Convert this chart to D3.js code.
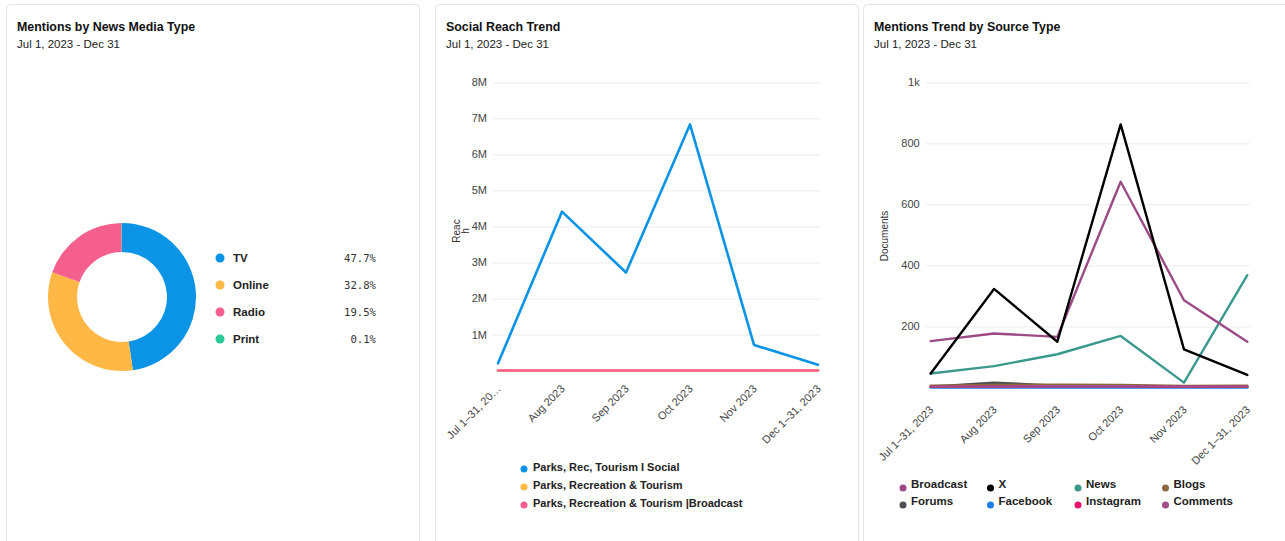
<!DOCTYPE html>
<html>
<head>
<meta charset="utf-8">
<script src="https://cdn.jsdelivr.net/npm/d3@7"></script>
<style>
  body { margin: 0; background: #fff; }
  svg { font-family: "Liberation Sans", Arial, sans-serif; display: block; }
  .title { font-size: 12.4px; font-weight: bold; fill: #111; }
  .sub { font-size: 11.5px; fill: #222; }
  .tick text { font-size: 11px; fill: #444; }
  .tick line { stroke: #ececec; }
  .domain { display: none; }
  .leg { font-size: 11.5px; font-weight: bold; fill: #222; }
</style>
</head>
<body>
<svg id="chart" width="1285" height="541"></svg>
<script>
// donut
const mediaTypes = ["TV", "Online", "Radio", "Print"];
const mediaShare = [47.7, 32.8, 19.5, 0.1];
const mediaColors = ["#0b93e5", "#ffb845", "#f45f8d", "#26c997"];

// social reach
const months = ["Jul 1–31, 2023", "Aug 2023", "Sep 2023", "Oct 2023", "Nov 2023", "Dec 1–31, 2023"];
const reachSeries = ["Parks, Rec, Tourism I Social", "Parks, Recreation & Tourism", "Parks, Recreation & Tourism |Broadcast"];
const reachColors = ["#0b93e5", "#ffb845", "#f45f8d"];
const reachSocial = [0.2e6, 4.41e6, 2.72e6, 6.83e6, 0.71e6, 0.16e6];
const reachOnline = [0, 0, 0, 0, 0, 0];
const reachBroadcast = [0, 0, 0, 0, 0, 0];
const reachTicks = [1e6, 2e6, 3e6, 4e6, 5e6, 6e6, 7e6, 8e6];

// mentions by source
const sources = ["Broadcast", "X", "News", "Blogs", "Forums", "Facebook", "Instagram", "Comments"];
const sourceColors = ["#9c4a85", "#000000", "#3a998c", "#8b6844", "#4f4f4f", "#1a7fe8", "#e8156e", "#a24c88"];
const srcBroadcast = [152, 177, 166, 674, 286, 150];
const srcX = [46, 323, 150, 862, 125, 41];
const srcNews = [46, 70, 109, 169, 16, 368];
const srcBlogs = [6, 8, 9, 8, 5, 6];
const srcForums = [3, 16, 6, 5, 3, 2];
const srcFacebook = [0, 0, 0, 0, 0, 0];
const srcInstagram = [2, 3, 4, 4, 2, 3];
const srcComments = [3, 3, 4, 4, 3, 3];
const docTicks = [200, 400, 600, 800, 1000];

const svg = d3.select("#chart");

function panel(x, w, title) {
  const g = svg.append("g").attr("transform", `translate(${x},4)`);
  g.append("rect").attr("x", 0.5).attr("y", 0.5).attr("width", w).attr("height", 545)
    .attr("rx", 4).attr("fill", "#fff").attr("stroke", "#e4e4e4");
  g.append("text").attr("class", "title").attr("x", 11).attr("y", 27).text(title);
  g.append("text").attr("class", "sub").attr("x", 11).attr("y", 44).text("Jul 1, 2023 - Dec 31");
  return g;
}

// ---- panel 1: donut
const p1 = panel(6, 413, "Mentions by News Media Type");
const pie = d3.pie().sort(null).value(d => d);
const arc = d3.arc().innerRadius(45).outerRadius(74);
const donut = p1.append("g").attr("transform", "translate(116,293)");
donut.selectAll("path").data(pie(mediaShare)).enter().append("path")
  .attr("d", arc).attr("fill", (d, i) => mediaColors[i]);

const leg1 = p1.selectAll(".legrow").data(mediaTypes).enter().append("g")
  .attr("transform", (d, i) => `translate(214,${254 + i * 27})`);
leg1.append("circle").attr("r", 4.5).attr("fill", (d, i) => mediaColors[i]);
leg1.append("text").attr("class", "leg").attr("x", 13).attr("y", 4).text(d => d);
leg1.append("text").attr("x", 156).attr("y", 4).attr("text-anchor", "end")
  .style("font-family", "'DejaVu Sans Mono', monospace").style("font-size", "10.6px").attr("fill", "#333")
  .text((d, i) => mediaShare[i].toFixed(1) + "%");

// ---- shared line chart
function lineChart(g, o) {
  const x = d3.scalePoint().domain(months).range([o.x0, o.x1]);
  const y = d3.scaleLinear().domain([0, o.max]).range([o.y0, o.y1]);

  g.append("g").attr("class", "y axis").attr("transform", `translate(${o.x0 - 5},0)`)
    .call(d3.axisLeft(y).tickValues(o.ticks).tickFormat(o.fmt).tickSize(-(o.x1 - o.x0 + 8)).tickPadding(6))
    .call(a => a.selectAll(".tick line").attr("x1", 0));

  const xa = g.append("g").attr("transform", `translate(3,${o.y0 + o.labelGap})`)
    .call(d3.axisBottom(x).tickSize(0).tickPadding(0).tickFormat(o.xfmt));
  xa.selectAll(".tick text").attr("text-anchor", "end").attr("dy", 0).attr("y", 0)
    .attr("transform", "rotate(-45)");

  const line = d3.line().x((d, i) => x(months[i])).y(d => y(d));
  o.series.forEach((s, i) => {
    g.append("path").datum(s).attr("d", line).attr("fill", "none")
      .attr("stroke", o.colors[i]).attr("stroke-width", o.sw).attr("stroke-linejoin", "round")
      .attr("stroke-linecap", "round");
  });
  return { x, y };
}

// ---- panel 2
const p2 = panel(435, 423, "Social Reach Trend");
lineChart(p2, {
  x0: 63, x1: 383, y0: 366.5, y1: 78.3, max: 8e6, ticks: reachTicks,
  fmt: d => d3.format("~s")(d), xfmt: (d, i) => i === 0 ? "Jul 1–31, 20…" : d,
  labelGap: 19, sw: 2.6,
  series: [reachOnline, reachSocial, reachBroadcast], colors: [reachColors[1], reachColors[0], reachColors[2]]
});
p2.append("text").attr("transform", "translate(25,227) rotate(-90)").attr("text-anchor", "middle")
  .style("font-size", "10px").attr("fill", "#333").text("Reac");
p2.append("text").attr("transform", "translate(34,227) rotate(-90)").attr("text-anchor", "middle")
  .style("font-size", "10px").attr("fill", "#333").text("h");
const leg2 = p2.selectAll(".legrow").data(reachSeries).enter().append("g")
  .attr("transform", (d, i) => `translate(89,${460 + i * 18})`);
leg2.append("circle").attr("cx", 0).attr("cy", 5).attr("r", 3.5).attr("fill", (d, i) => reachColors[i]);
leg2.append("text").attr("class", "leg").attr("x", 9).attr("y", 7).style("font-size", "11px").text(d => d);

// ---- panel 3
const p3 = panel(863, 430, "Mentions Trend by Source Type");
const srcSeries = [srcFacebook, srcForums, srcBlogs, srcInstagram, srcComments, srcNews, srcBroadcast, srcX];
const srcOrder = [5, 4, 3, 6, 7, 2, 0, 1];
lineChart(p3, {
  x0: 67.7, x1: 384.3, y0: 383.5, y1: 78.3, max: 1000, ticks: docTicks,
  fmt: d => d === 1000 ? "1k" : d, xfmt: d => d,
  labelGap: 23, sw: 2.4,
  series: srcSeries, colors: srcOrder.map(i => sourceColors[i])
});
p3.append("text").attr("transform", "translate(25,232) rotate(-90)").attr("text-anchor", "middle")
  .style("font-size", "10px").attr("fill", "#333").text("Documents");
const leg3 = p3.selectAll(".legrow").data(sources).enter().append("g")
  .attr("transform", (d, i) => `translate(40,${478 + Math.floor(i / 4) * 17})`)
  .attr("transform", (d, i) => `translate(${40 + (i % 4) * 87.5},${478 + Math.floor(i / 4) * 17})`);
leg3.append("circle").attr("cx", 0).attr("cy", 6).attr("r", 3.5).attr("fill", (d, i) => sourceColors[i]);
leg3.append("text").attr("class", "leg").attr("x", 8).attr("y", 6).text(d => d);
</script>
</body>
</html>
